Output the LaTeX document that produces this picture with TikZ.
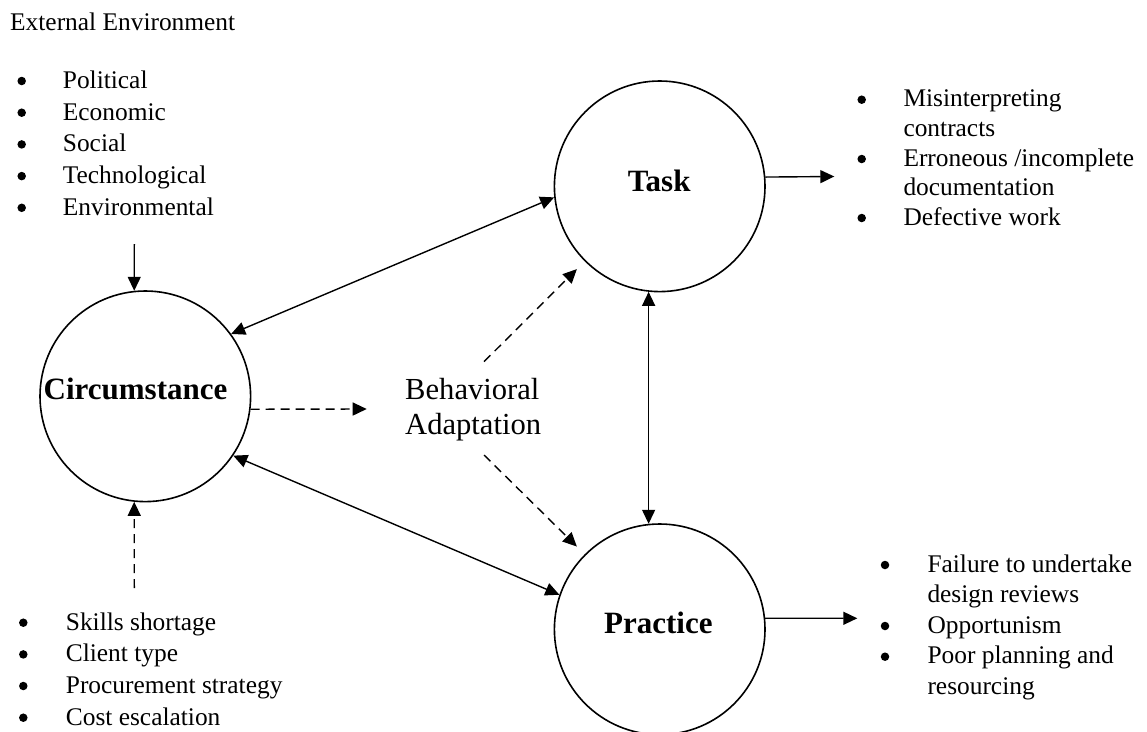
\documentclass[tikz,border=0pt]{standalone}
\usepackage{fontspec}
\setmainfont{Liberation Serif}
\usetikzlibrary{arrows.meta}
\begin{document}
\begin{tikzpicture}[x=1pt,y=-1pt,
  circ/.style={circle, draw, line width=1.6pt, minimum size=210.6pt, inner sep=0pt},
  lbl/.style={font=\fontsize{31}{36}\selectfont\bfseries, anchor=base, inner sep=0pt},
  txt/.style={font=\fontsize{25.4}{30}\selectfont, anchor=base west, inner sep=0pt},
  big/.style={font=\fontsize{30.6}{35}\selectfont, anchor=base west, inner sep=0pt},
  bul/.style={circle, fill=black, inner sep=0pt, minimum size=8.5pt},
  conn/.style={line width=1.4pt},
  tipend/.style={-{Triangle[length=14pt,width=13pt]}},
  bothend/.style={{Triangle[length=14pt,width=13pt]}-{Triangle[length=14pt,width=13pt]}},
  dashline/.style={dash pattern=on 9pt off 6pt}]
\useasboundingbox (0,0) rectangle (1147,731);

% circles
\node[circ] (circ) at (145.3,396.3) {};
\node[circ] (task) at (659.7,186.3) {};
\node[circ] (prac) at (659.7,629.3) {};
\node[lbl] (circl) at (135.5,399) {Circumstance};
\node[lbl] (taskl) at (659.2,191) {Task};
\node[lbl] (pracl) at (658.3,633.3) {Practice};

% behavioral adaptation
\node[big] (ba1) at (405,399) {Behavioral};
\node[big] (ba2) at (405,434) {Adaptation};

% external environment
\node[txt] (ext) at (10,30.5) {External Environment};
\foreach \i/\t/\y in {1/Political/88.3, 2/Economic/120, 3/Social/151.7, 4/Technological/183.4, 5/Environmental/215.1}{
  \node[bul] (eb\i) at (21.7,\y-7.3) {};
  \node[txt] (et\i) at (62.7,\y) {\t};
}

% bottom-left list
\foreach \i/\t/\y in {1/Skills shortage/630, 2/Client type/661.7, 3/Procurement strategy/693.3, 4/Cost escalation/725}{
  \node[bul] (cb\i) at (23.3,\y-7.3) {};
  \node[txt] (ct\i) at (65.7,\y) {\t};
}

% top-right list
\node[bul] (tb1) at (861.7,99.7) {};
\node[txt] (tt1) at (903.3,106.7) {Misinterpreting};
\node[txt] (tt1b) at (903.3,136.2) {contracts};
\node[bul] (tb2) at (861.7,159) {};
\node[txt] (tt2) at (903.3,166) {Erroneous /incomplete};
\node[txt] (tt2b) at (903.3,195.5) {documentation};
\node[bul] (tb3) at (861.7,218) {};
\node[txt] (tt3) at (903.3,225) {Defective work};

% bottom-right list
\node[bul] (pb1) at (885,565) {};
\node[txt] (pt1) at (927.3,572) {Failure to undertake};
\node[txt] (pt1b) at (927.3,602.5) {design reviews};
\node[bul] (pb2) at (885,626) {};
\node[txt] (pt2) at (927.3,633) {Opportunism};
\node[bul] (pb3) at (885,656.7) {};
\node[txt] (pt3) at (927.3,663.5) {Poor planning and};
\node[txt] (pt3b) at (927.3,694) {resourcing};

% free ends
\coordinate (extout) at (134.3,244);
\coordinate (clout) at (134.3,588);
\coordinate (baleft) at (366.7,409);
\coordinate (batop) at (484,361.7);
\coordinate (babot) at (484,455);
\coordinate (taskout) at (834.3,176.5);
\coordinate (pracout) at (857.3,618.3);

% connectors
\draw[conn,tipend] (extout) -- (circ.96);
\draw[conn,tipend,dashline] (clout) -- (circ.264);
\draw[conn,bothend] (circ.36) -- (task.186.5);
\draw[conn,bothend] (circ.-34.7) -- (prac.161.6);
\draw[conn,bothend] (task.264) -- (prac.96);
\draw[conn,tipend] (task.5.6) -- (taskout);
\draw[conn,tipend] (prac.6) -- (pracout);
\draw[conn,tipend,dashline] (circ.-7) -- (baleft);
\draw[conn,tipend,dashline,shorten >=11pt] (batop) -- (task.225);
\draw[conn,tipend,dashline,shorten >=11pt] (babot) -- (prac.135);
\end{tikzpicture}
\end{document}
